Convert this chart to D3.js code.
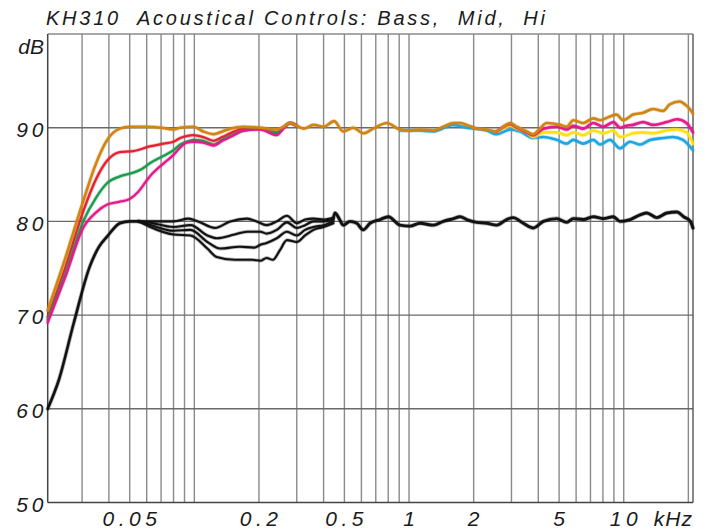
<!DOCTYPE html>
<html><head><meta charset="utf-8">
<script src="https://cdn.jsdelivr.net/npm/d3@7"></script>
<style>
body{margin:0;background:#fff}
svg{display:block}
text{font-family:"Liberation Sans",Arial,sans-serif;font-style:italic;fill:#1a1a1a;white-space:pre}
</style>
</head><body>
<svg id="chart" width="708" height="531"></svg>
<script>
// ---------- data (frequency in Hz, level in dB) ----------
const titleText = "KH310  Acoustical Controls: Bass,  Mid,  Hi";
const yTickValues = [50, 60, 70, 80, 90];
const xGridValues = [30,40,50,60,70,80,90,100,200,300,400,500,600,700,800,900,1000,2000,3000,4000,5000,6000,7000,8000,9000,10000,20000];
const xTickValues = [50, 200, 500, 1000, 2000, 5000, 10000];
const xTickLabels = ["0.05", "0.2", "0.5", "1", "2", "5", "10"];

const flat = [[20.75,70.5],[25,76.0],[30.5,82.3],[35,86.3],[39.3,88.7],[45,89.9],[50,90.1],[60,90.1],[70,90.0],[80,89.8],[86,90.0],[99,90.1],[110,89.6],[123,89.3],[135,89.6],[147,89.9],[170,90.1],[203,90.0],[242,89.8],[260,90.1],[279,90.5],[300,90.2],[323,89.9],[359,90.3],[400,90.1],[448,90.7],[494,89.6],[550,90.0],[612,89.4],[682,89.9],[788,90.5],[908,89.8],[1011,89.7],[1125,89.8],[1298,89.7],[1445,90.1],[1609,90.5],[1728,90.5],[1857,90.3],[2066,89.9],[2300,89.8],[2560,89.6],[2753,90.1],[2957,90.5],[3175,90.1],[3534,89.6],[3792,89.3],[4070,89.9],[4370,90.5],[5057,90.3],[5425,90.1],[5823,90.8],[6483,90.5],[7218,91.0],[7748,90.8],[8626,91.2],[9257,91.4],[9935,90.8],[11061,91.4],[12315,91.6],[13711,92.0],[15265,91.8],[16381,92.5],[18237,92.8],[19246,92.5],[20308,92.0],[21000,91.5]];

const bassRed = [[20.75,69.8],[25,75.0],[30.5,81.2],[35,84.6],[39.3,86.5],[45,87.4],[52,87.5],[62,88.0],[72,88.3],[80,88.5],[86,88.9],[92,89.1],[99,89.2],[110,89.0],[123,88.6],[135,89.0],[147,89.4],[170,89.9],[203,89.9],[242,89.5],[260,90.0],[279,90.5],[300,90.2]];

const bassGreen = [[20.75,69.5],[25,74.3],[30.5,80.1],[35,82.6],[39.3,84.1],[45,84.8],[52,85.2],[57,85.6],[62,86.2],[72,87.0],[80,87.6],[86,88.2],[92,88.5],[99,88.7],[110,88.6],[123,88.2],[135,88.7],[147,89.1],[170,89.7],[203,89.9],[242,89.4],[260,90.0],[279,90.5],[300,90.2]];

const bassMagenta = [[20.75,69.2],[25,74.0],[30.5,79.4],[35,81.0],[39.3,81.8],[45,82.1],[50,82.4],[55,83.2],[62,84.8],[72,86.2],[80,87.1],[86,87.9],[92,88.4],[99,88.5],[110,88.4],[123,88.1],[135,88.6],[147,89.0],[170,89.7],[203,89.8],[242,89.2],[260,89.9],[279,90.5],[300,90.2]];

const hiMagenta = [[2560,89.6],[2753,90.1],[2957,90.4],[3175,90.0],[3534,89.5],[3792,89.2],[4223,89.9],[4873,90.1],[5425,89.8],[5823,90.2],[6483,89.9],[7218,90.5],[8036,90.1],[8947,90.6],[9614,90.0],[10300,90.2],[11061,90.3],[12315,90.6],[13711,90.3],[15878,90.6],[17678,90.9],[19600,90.5],[21000,89.5]];

const hiYellow = [[2560,89.6],[2753,90.0],[2957,90.2],[3175,89.9],[3534,89.5],[3792,89.0],[4223,89.5],[4873,89.5],[5425,89.2],[5823,89.5],[6483,89.2],[7218,89.7],[8036,89.4],[8947,89.7],[9614,89.0],[11061,89.4],[12315,89.5],[13711,89.4],[15878,89.7],[17678,89.8],[19600,89.5],[21000,88.3]];

const hiBlue = [[908,89.7],[1125,89.7],[1298,89.6],[1609,90.3],[1857,90.0],[2300,89.7],[2560,89.3],[2957,89.8],[3293,89.6],[3792,88.9],[4223,89.0],[4873,88.7],[5425,88.3],[5823,88.7],[6483,88.3],[7218,88.7],[7748,88.2],[8626,88.7],[9614,87.8],[10704,88.5],[11917,88.2],[13266,88.7],[15265,88.9],[16946,89.0],[18868,88.7],[21000,87.6]];

const blackLow = [[20.75,60.0],[23.4,63.1],[27.4,69.1],[32.6,75.2],[36,77.3],[39.3,78.4],[45,79.8],[50,80.0],[55,80.0]];

const mid0 = [[55,80.0],[61,80.0],[80,80.0],[94,80.3],[104,80.0],[125,79.3],[147,80.0],[176,80.3],[195,80.0],[217,79.6],[242,80.0],[270,80.6],[300,79.8],[328,80.2],[359,80.3],[400,80.2],[444,80.4]];
const mid1 = [[55,80.0],[61,79.9],[80,79.4],[96,79.6],[115,78.5],[127,78.2],[154,78.6],[176,78.9],[203,78.9],[217,78.7],[242,79.1],[270,79.9],[300,79.3],[328,79.6],[359,80.0],[400,80.0],[444,80.2]];
const mid2 = [[55,80.0],[61,79.7],[80,79.0],[96,79.1],[115,77.8],[132,77.1],[163,77.3],[190,77.2],[203,77.5],[217,77.7],[242,78.2],[270,78.9],[300,78.5],[328,79.1],[359,79.4],[400,79.6],[444,80.0]];
const mid3 = [[55,80.0],[61,79.5],[80,78.6],[96,78.5],[115,77.1],[127,76.2],[154,75.9],[186,75.9],[203,75.8],[217,76.1],[232,75.9],[250,76.9],[270,78.0],[300,77.8],[328,78.5],[359,79.1],[400,79.4],[444,79.8]];

const blackHigh = [[444,80.3],[452,80.9],[475,80.2],[493,79.6],[531,80.0],[571,79.8],[611,79.1],[658,79.8],[733,80.2],[802,80.5],[908,79.6],[1011,79.5],[1125,79.8],[1298,79.6],[1445,80.0],[1609,80.3],[1728,80.5],[1857,80.2],[2066,79.9],[2300,79.8],[2560,79.6],[2851,80.2],[3061,80.4],[3406,79.8],[3792,79.3],[4223,80.0],[4873,80.3],[5425,79.9],[5823,80.3],[6483,80.2],[7218,80.5],[8036,80.3],[8947,80.5],[9614,80.0],[10704,80.2],[11917,80.7],[12810,80.9],[14262,80.4],[15878,80.9],[17678,81.0],[19005,80.5],[20428,80.0],[21000,79.3]];

// ---------- drawing ----------
const svg = d3.select("#chart");
const x = d3.scaleLog().domain([20.75, 21020]).range([47.7, 693]);
const y = d3.scaleLinear().domain([50, 100]).range([502.5, 34]);

const grid = svg.append("g");
grid.selectAll("line.v").data(xGridValues).join("line")
  .attr("x1", d => x(d)).attr("x2", d => x(d))
  .attr("y1", y(100)).attr("y2", y(50))
  .attr("stroke", "#8a8a8a").attr("stroke-width", 1.4);
grid.selectAll("line.h").data([60,70,80,90]).join("line")
  .attr("x1", x.range()[0]).attr("x2", x.range()[1])
  .attr("y1", d => y(d)).attr("y2", d => y(d))
  .attr("stroke", "#6a6a6a").attr("stroke-width", 1.4);
// frame
grid.append("line").attr("x1", x.range()[0]).attr("x2", x.range()[1]).attr("y1", y(100)).attr("y2", y(100)).attr("stroke", "#8a8a8a").attr("stroke-width", 1.4);
grid.append("line").attr("x1", x.range()[1]).attr("x2", x.range()[1]).attr("y1", y(100)).attr("y2", y(50)).attr("stroke", "#555").attr("stroke-width", 1.4);
grid.append("line").attr("x1", x.range()[0]).attr("x2", x.range()[1]).attr("y1", y(50)).attr("y2", y(50)).attr("stroke", "#444").attr("stroke-width", 1.5);
grid.append("line").attr("x1", x.range()[0]).attr("x2", x.range()[0]).attr("y1", y(100)).attr("y2", y(50)).attr("stroke", "#444").attr("stroke-width", 1.5);

const line = d3.line().x(d => x(d[0])).y(d => y(d[1])).curve(d3.curveMonotoneX);
const plot = svg.append("g").attr("fill", "none").attr("stroke-linejoin", "round").attr("stroke-linecap", "round");

function draw(data, color, w) {
  plot.append("path").attr("d", line(data)).attr("stroke", color).attr("stroke-opacity", 0.3).attr("stroke-width", w + 1.6);
  plot.append("path").attr("d", line(data)).attr("stroke", color).attr("stroke-width", w);
}
[mid3, mid2, mid1, mid0].forEach(s => draw(s, "#111", 2.1));
draw(blackLow, "#111", 2.6);
draw(blackHigh, "#111", 2.9);

draw(hiBlue, "#1ea6e2", 2.6);
draw(hiYellow, "#ffe010", 2.6);
draw(hiMagenta, "#e5198a", 2.6);
draw(bassRed, "#e8202e", 2.3);
draw(bassGreen, "#1a9c4c", 2.3);
draw(bassMagenta, "#e5198a", 2.3);
draw(flat, "#cf8414", 2.6);

// ---------- text ----------
svg.append("text").attr("x", 46).attr("y", 25)
  .attr("font-size", 20).attr("textLength", 499).attr("lengthAdjust", "spacing")
  .text(titleText);

svg.append("text").attr("x", 44).attr("y", 54).attr("text-anchor", "end")
  .attr("font-size", 21).text("dB");

const lsY = 4;
svg.append("g").selectAll("text").data(yTickValues).join("text")
  .attr("x", 43.5 + lsY).attr("y", d => y(d) + 9.3)
  .attr("text-anchor", "end").attr("font-size", 21).attr("letter-spacing", lsY)
  .text(d => d);

const ls = 4.5;
svg.append("g").selectAll("text").data(xTickValues).join("text")
  .attr("x", d => x(d) + ls / 2).attr("y", 525.5)
  .attr("text-anchor", "middle").attr("font-size", 21).attr("letter-spacing", ls)
  .text((d, i) => xTickLabels[i]);

svg.append("text").attr("x", 693).attr("y", 525.5).attr("text-anchor", "end")
  .attr("font-size", 21).attr("letter-spacing", 1).text("kHz");
</script>
</body></html>
